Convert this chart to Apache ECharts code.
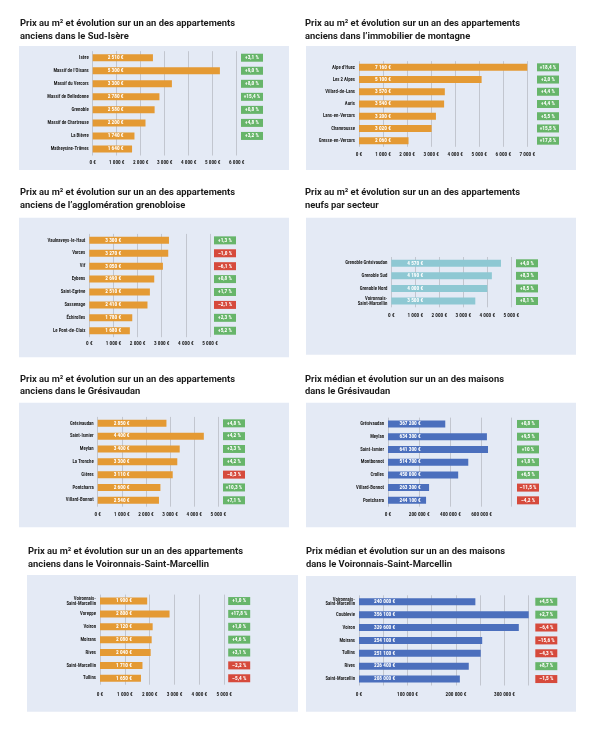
<!DOCTYPE html>
<html><head><meta charset="utf-8">
<script src="https://cdn.jsdelivr.net/npm/echarts@6/dist/echarts.min.js"></script>
<style>html,body{margin:0;padding:0;background:#fff}#c{width:595px;height:737px}</style>
</head><body><div id="c"></div>
<script>
// ---- Data ----
const sudCats = ['Isère','Massif de l’Oisans','Massif du Vercors','Massif de Belledonne','Grenoble','Massif de Chartreuse','La Bièvre','Matheysine-Trièves'];
const sudPrices = [2510,5300,3300,2780,2580,2200,1740,1640];
const sudChanges = ['+3,1 %','+9,0 %','+8,0 %','+15,4 %','+0,8 %','+4,8 %','+3,2 %',null];

const montCats = ['Alpe d’Huez','Les 2 Alpes','Villard-de-Lans','Auris','Lans-en-Vercors','Chamrousse','Gresse-en-Vercors'];
const montPrices = [7160,5100,3570,3540,3200,3020,2060];
const montChanges = ['+18,4 %','+2,0 %','+4,4 %','+4,4 %','+5,5 %','+15,5 %','+17,8 %'];

const aggloCats = ['Vaulnaveys-le-Haut','Varces','Vif','Eybens','Saint-Egrève','Sassenage','Échirolles','Le Pont-de-Claix'];
const aggloPrices = [3300,3270,3050,2690,2510,2410,1780,1680];
const aggloChanges = ['+1,3 %','–1,0 %','–6,1 %','+0,8 %','+1,7 %','–2,1 %','+2,3 %','+5,2 %'];

const neufCats = ['Grenoble Grésivaudan','Grenoble Sud','Grenoble Nord','Voironnais-\nSaint-Marcellin'];
const neufPrices = [4570,4190,4000,3500];
const neufChanges = ['+4,0 %','+8,3 %','+8,5 %','+8,1 %'];

const gresCats = ['Grésivaudan','Saint-Ismier','Meylan','La Tronche','Gières','Pontcharra','Villard-Bonnot'];
const gresPrices = [2850,4400,3400,3300,3110,2600,2540];
const gresChanges = ['+4,8 %','+4,2 %','+3,3 %','+4,2 %','–0,3 %','+10,3 %','+7,1 %'];

const gresMaisCats = ['Grésivaudan','Meylan','Saint-Ismier','Montbonnot','Crolles','Villard-Bonnot','Pontcharra'];
const gresMaisPrices = [367200,634300,641300,514700,450000,263300,244100];
const gresMaisChanges = ['+0,8 %','+9,5 %','+10 %','+1,8 %','+6,5 %','–11,5 %','–4,2 %'];

const voirCats = ['Voironnais-\nSaint-Marcellin','Voreppe','Voiron','Moirans','Rives','Saint-Marcellin','Tullins'];
const voirPrices = [1900,2800,2120,2080,2040,1710,1650];
const voirChanges = ['+1,0 %','+17,8 %','+1,0 %','+4,6 %','+3,1 %','–2,2 %','–5,4 %'];

const voirMaisCats = ['Voironnais-\nSaint-Marcellin','Coublevie','Voiron','Moirans','Tullins','Rives','Saint-Marcellin'];
const voirMaisPrices = [240000,356100,329600,254100,251100,226400,208000];
const voirMaisChanges = ['+4,5 %','+2,7 %','–6,4 %','–15,6 %','–4,3 %','+8,7 %','–1,5 %'];

// ---- Styles / layout ----
const ORANGE = '#e49a34', BLUE = '#4b6fbd', TEAL = '#8ec8d3';
const GREEN = '#67b56a', RED = '#d64a3c', BOX = '#e4eaf5', GRID = '#c2c6cf';
const NARROW = "'Roboto Condensed','Liberation Sans Narrow',Roboto,sans-serif";
const TITLEF = "Roboto, 'Liberation Sans', sans-serif";
const T_APP = 'Prix au m² et évolution sur un an des appartements';
const T_MAI = 'Prix médian et évolution sur un an des maisons';

const panels = [
  {cats:sudCats, vals:sudPrices, chg:sudChanges, title:T_APP+'\nanciens dans le Sud-Isère', color:ORANGE,
   box:[19,46,270,124], tx:20, ty:24, g:[92.7,51.2,144,104.3], max:6000, step:1000, lab:1000, bm:4.3, am:4.5, ld:15},
  {cats:montCats, vals:montPrices, chg:montChanges, title:T_APP+'\nanciens dans l’immobilier de montagne', color:ORANGE,
   box:[306,46,270,124], tx:305, ty:24, g:[359,61.2,168.3,85.6], max:7000, step:1000, lab:1000, bm:9.7, am:5.2, ld:16},
  {cats:aggloCats, vals:aggloPrices, chg:aggloChanges, title:T_APP+'\nanciens de l’agglomération grenobloise', color:ORANGE,
   box:[19,217.7,270,139.5], tx:20, ty:193, g:[89.3,233.9,120.7,103.3], max:5000, step:1000, lab:1000, bm:4, am:3.8, ld:16},
  {cats:neufCats, vals:neufPrices, chg:neufChanges, title:T_APP+'\nneufs par secteur', color:TEAL,
   box:[306,217.7,270,137], tx:305, ty:193, g:[391.3,257,120,50.3], max:5000, step:1000, lab:1000, bm:4.7, am:5.4, ld:16},
  {cats:gresCats, vals:gresPrices, chg:gresChanges, title:T_APP+'\nanciens dans le Grésivaudan', color:ORANGE,
   box:[19,402.7,270,124.5], tx:20, ty:379.3, g:[97.7,416.9,120.6,89.8], max:5000, step:1000, lab:1000, bm:4.7, am:5.3, ld:16},
  {cats:gresMaisCats, vals:gresMaisPrices, chg:gresMaisChanges, title:T_MAI+'\ndans le Grésivaudan', color:BLUE,
   box:[306,402.7,270,124.5], tx:305, ty:379.3, g:[388,417.6,123.2,89.1], max:790000, step:200000, lab:200000, bm:5.8, am:5.3, ld:11.5},
  {cats:voirCats, vals:voirPrices, chg:voirChanges, title:T_APP+'\nanciens dans le Voironnais-Saint-Marcellin', color:ORANGE,
   box:[27,575,271,136.7], tx:28, ty:551.7, g:[100,594.6,124.2,90.1], max:5000, step:1000, lab:1000, bm:4, am:7.3, ld:16},
  {cats:voirMaisCats, vals:voirMaisPrices, chg:voirMaisChanges, title:T_MAI+'\ndans le Voironnais-Saint-Marcellin', color:BLUE,
   box:[306,576,270,135.7], tx:306, ty:551.7, g:[359,595.3,169.7,90.2], max:350000, step:50000, lab:100000, bm:6.6, am:6.5, ld:15}
];

const fmt = v => String(v).replace(/\B(?=(\d{3})+(?!\d))/g, ' ') + ' €';

const option = {animation:false, title:[], grid:[], xAxis:[], yAxis:[], series:[], graphic:{elements:[]}};

const badge = c => ({backgroundColor:c, color:'#fff', width:22, height:8, lineHeight:8, align:'center',
  fontSize:5.3, fontWeight:'bold', fontFamily:NARROW});

panels.forEach((p, i) => {
  option.graphic.elements.push({type:'rect', z:-100, shape:{x:p.box[0], y:p.box[1], width:p.box[2], height:p.box[3]}, style:{fill:BOX}});
  option.title.push({text:p.title, left:p.tx, top:p.ty - 6.2, padding:0,
    textStyle:{fontFamily:TITLEF, fontWeight:'bold', fontSize:9.4, lineHeight:12.5, color:'#1b1b1b'}});
  option.grid.push({left:p.g[0], top:p.g[1], width:p.g[2], height:p.g[3], containLabel:false});
  option.xAxis.push({type:'value', gridIndex:i, min:0, max:p.max, interval:p.step,
    axisLine:{show:false}, axisTick:{show:false},
    splitLine:{show:true, lineStyle:{color:GRID, width:1}},
    axisLabel:{margin:p.am, fontFamily:NARROW, fontWeight:'bold', fontSize:5.2, color:'#1e1e1e', hideOverlap:false,
      formatter: v => (v % p.lab === 0 ? fmt(v) : '')}});
  option.yAxis.push({type:'category', gridIndex:i, data:p.cats, inverse:true,
    axisLine:{show:false}, axisTick:{show:false},
    axisLabel:{interval:0, margin:4, fontFamily:NARROW, fontWeight:'bold', fontSize:4.8, lineHeight:4.8, color:'#1e1e1e'}});
  option.yAxis.push({type:'category', gridIndex:i, data:p.cats, inverse:true, position:'right',
    axisLine:{show:false}, axisTick:{show:false},
    axisLabel:{interval:0, margin:p.bm, align:'left',
      formatter:(v, idx) => {
        const c = p.chg[idx];
        if (!c) return '';
        return '{' + (c.charAt(0) === '+' ? 'g' : 'r') + '|' + c + '}';
      },
      rich:{ g:badge(GREEN), r:badge(RED) }}});
  option.series.push({type:'bar', xAxisIndex:i, yAxisIndex:2*i, data:p.vals, barWidth:7,
    itemStyle:{color:p.color},
    label:{show:true, position:'insideLeft', distance:p.ld, formatter: d => fmt(d.value), overflow:'none',
      color:'#fff', fontFamily:NARROW, fontWeight:'bold', fontSize:5.3}});
});

const chart = echarts.init(document.getElementById('c'), null, {renderer:'canvas'});
chart.setOption(option);
</script>
</body></html>
